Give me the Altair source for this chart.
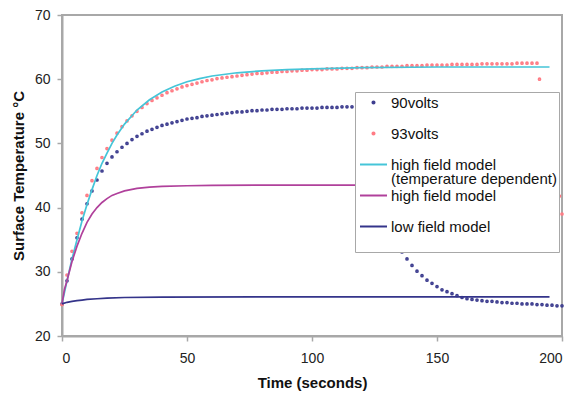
import altair as alt
import pandas as pd

S90 = "90volts"
S93 = "93volts"
HFT = "high field model (temperature dependent)"
HF = "high field model"
LF = "low field model"
series = [S90, S93, HFT, HF, LF]
colors = ["#3d3d8f", "#ff7b84", "#45c5d8", "#b0409b", "#34348a"]
DOT = "M-0.14,0A0.14,0.14,0,1,0,0.14,0A0.14,0.14,0,1,0,-0.14,0Z"
LINE = "M-1.8,0L1.8,0"
shapes = [DOT, DOT, LINE, LINE, LINE]

# 90 volts measurement (heating then cooling), every 2 s
time_90 = list(range(0, 201, 2))
temp_90 = [
    25.0, 28.6, 32.0, 35.3, 38.2, 40.6, 42.6, 44.3, 45.7, 46.9,
    47.9, 48.7, 49.4, 50.0, 50.6, 51.1, 51.5, 51.9, 52.2, 52.5,
    52.8, 53.0, 53.2, 53.4, 53.6, 53.8, 53.9, 54.0, 54.2, 54.3,
    54.4, 54.5, 54.6, 54.7, 54.8, 54.9, 54.9, 55.0, 55.1, 55.1,
    55.2, 55.2, 55.3, 55.3, 55.3, 55.4, 55.4, 55.4, 55.5, 55.5,
    55.5, 55.5, 55.6, 55.6, 55.6, 55.6, 55.7, 55.7, 55.7, 55.7,
    51.5, 47.9, 44.8, 42.1, 39.8, 37.7, 36.0, 34.5, 33.1, 32.0,
    31.0, 30.1, 29.4, 28.7, 28.2, 27.7, 27.2, 26.9, 26.6, 26.3,
    26.0, 25.8, 25.7, 25.6, 25.5, 25.4, 25.4, 25.3, 25.2, 25.2,
    25.1, 25.1, 25.0, 25.0, 25.0, 24.9, 24.9, 24.8, 24.8, 24.7,
    24.7,
]

# 93 volts measurement
time_93 = list(range(0, 191, 2)) + [191, 193, 195, 197, 199, 200]
temp_93 = [
    24.9, 29.5, 33.2, 36.0, 39.2, 41.9, 44.2, 46.1, 47.8, 49.2,
    50.5, 51.6, 52.6, 53.5, 54.3, 55.0, 55.6, 56.2, 56.7, 57.1,
    57.5, 57.9, 58.2, 58.5, 58.8, 59.0, 59.2, 59.4, 59.6, 59.8,
    59.9, 60.1, 60.2, 60.3, 60.4, 60.5, 60.6, 60.7, 60.8, 60.9,
    60.9, 61.0, 61.1, 61.1, 61.2, 61.2, 61.3, 61.3, 61.4, 61.4,
    61.5, 61.5, 61.5, 61.6, 61.6, 61.6, 61.7, 61.7, 61.7, 61.8,
    61.8, 61.8, 61.9, 61.9, 61.9, 62.0, 62.0, 62.0, 62.0, 62.1,
    62.1, 62.1, 62.1, 62.2, 62.2, 62.2, 62.2, 62.2, 62.3, 62.3,
    62.3, 62.3, 62.3, 62.3, 62.4, 62.4, 62.4, 62.4, 62.4, 62.4,
    62.4, 62.5, 62.5, 62.5, 62.5, 62.5,
    60.0, 54.6, 49.8, 45.6, 41.8, 39.0,
]

# high field model (temperature dependent)
time_hft = [0, 2, 4, 6, 8, 10, 12, 14, 16, 18, 20, 22, 25, 30, 35, 40, 45, 50,
            55, 60, 70, 80, 90, 100, 120, 150, 195]
temp_hft = [25.0, 28.6, 32.0, 35.0, 37.9, 40.5, 42.8, 45.0, 46.9, 48.5, 50.0,
            51.3, 53.0, 55.2, 56.8, 58.0, 58.9, 59.6, 60.1, 60.5, 61.0, 61.3,
            61.5, 61.6, 61.8, 61.9, 61.9]

# high field model
time_hf = [0, 1, 2, 4, 6, 8, 10, 12, 14, 16, 18, 20, 22, 25, 30, 35, 40, 50,
           60, 80, 120, 195]
temp_hf = [25.0, 27.3, 28.6, 31.6, 34.0, 36.0, 37.7, 39.0, 40.0, 40.8, 41.4,
           41.9, 42.2, 42.6, 43.0, 43.2, 43.3, 43.4, 43.45, 43.5, 43.5, 43.5]

# low field model
time_lf = [0, 2, 4, 6, 8, 10, 14, 18, 25, 40, 100, 195]
temp_lf = [25.0, 25.25, 25.4, 25.5, 25.6, 25.7, 25.8, 25.9, 26.0, 26.05, 26.1, 26.1]

points = pd.DataFrame({
    "t": time_90 + time_93,
    "T": temp_90 + temp_93,
    "s": [S90] * len(time_90) + [S93] * len(time_93),
})
lines = pd.DataFrame({
    "t": time_hft + time_hf + time_lf,
    "T": temp_hft + temp_hf + temp_lf,
    "s": [HFT] * len(time_hft) + [HF] * len(time_hf) + [LF] * len(time_lf),
})

legend = alt.Legend(
    title=" ",
    titleOrient="bottom",
    titleFontSize=1,
    titlePadding=0,
    orient="none",
    legendX=293,
    legendY=77,
    fillColor="white",
    strokeColor="#a8a8a8",
    padding=2,
    symbolSize=225,
    symbolStrokeWidth=2,
    symbolOffset=8,
    labelOffset=9,
    rowPadding=0,
    labelFont="Liberation Sans",
    labelFontSize=15,
    labelColor="#111111",
    labelLimit=400,
    labelExpr=(f"datum.label == '{HFT}' ? ['high field model', '(temperature dependent)']"
               " : [datum.label, ' ']"),
)

x = alt.X("t:Q", scale=alt.Scale(domain=[0, 200], nice=False),
          axis=alt.Axis(values=[0, 50, 100, 150, 200], title="Time (seconds)",
                        labelPadding=10, titlePadding=10))
y = alt.Y("T:Q", scale=alt.Scale(domain=[20, 70], nice=False, zero=False),
          axis=alt.Axis(values=[20, 30, 40, 50, 60, 70], title="Surface Temperature °C",
                        labelPadding=7, titlePadding=8))
color = alt.Color("s:N", scale=alt.Scale(domain=series, range=colors), legend=legend)
shape = alt.Shape("s:N", scale=alt.Scale(domain=series, range=shapes), legend=legend)

pts = alt.Chart(points).mark_point(filled=False, size=225, strokeWidth=1.6, opacity=1).encode(
    x=x, y=y, color=color, shape=shape
)
lns = alt.Chart(lines).mark_line(strokeWidth=1.7).encode(
    x=x, y=y, color=color, detail="s:N"
)

chart = alt.layer(pts, lns).properties(
    width=500, height=321,
    autosize=alt.AutoSizeParams(type="none"),
    padding={"left": 62, "top": 15, "right": 18, "bottom": 57},
    background="white",
).configure(
    style={"guide-label": {"lineHeight": 14}}
).configure_view(
    stroke="#a8a8a8", strokeWidth=2
).configure_axis(
    grid=False,
    domainColor="#a8a8a8", domainWidth=2,
    tickColor="#a8a8a8", tickSize=5, tickWidth=1.5,
    labelFont="Liberation Sans", labelFontSize=14, labelColor="#222222",
    titleFont="Liberation Sans", titleFontSize=15, titleFontWeight="bold",
    titleColor="#111111",
)

chart.save("out.html", embed_options={"renderer": "svg", "actions": False})
